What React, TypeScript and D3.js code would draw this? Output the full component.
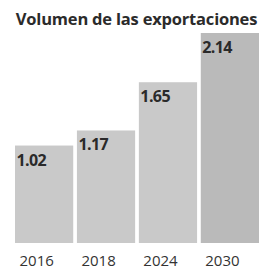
import React, { useEffect, useRef } from "react";
import * as d3 from "d3";

const years = ["2016", "2018", "2024", "2030"];
const volumes = [1.02, 1.17, 1.65, 2.14];
const valueLabels = ["1.02", "1.17", "1.65", "2.14"];
const title = "Volumen de las exportaciones";

const W = 263;
const H = 268;

export default function App() {
  const ref = useRef<SVGSVGElement>(null);

  useEffect(() => {
    const svg = d3.select(ref.current);
    svg.selectAll("*").remove();

    const x = d3.scaleBand<string>()
      .domain(years)
      .range([15, 259])
      .paddingInner(0.06)
      .paddingOuter(0);

    // bars don't start from zero in the print, bottom sits a bit above
    const y = d3.scaleLinear()
      .domain([0.05, 2.14])
      .range([243, 33]);

    svg.append("text")
      .attr("x", 136.5)
      .attr("y", 25)
      .attr("text-anchor", "middle")
      .attr("font-family", "Open Sans, sans-serif")
      .attr("font-weight", 700)
      .attr("font-size", 16.5)
      .attr("letter-spacing", -0.2)
      .attr("fill", "#2b2b2b")
      .text(title);

    const g = svg.append("g");

    g.selectAll("rect")
      .data(volumes)
      .enter()
      .append("rect")
      .attr("x", (d, i) => x(years[i])!)
      .attr("y", d => y(d))
      .attr("width", x.bandwidth())
      .attr("height", d => y.range()[0] - y(d))
      .attr("fill", (d, i) => i === 3 ? "#bababa" : "#c9c9c9");

    g.selectAll(".val")
      .data(volumes)
      .enter()
      .append("text")
      .attr("class", "val")
      .attr("x", (d, i) => x(years[i])! + 1.5)
      .attr("y", d => y(d) + 20)
      .attr("font-family", "Open Sans, sans-serif")
      .attr("font-weight", 700)
      .attr("font-size", 16)
      .attr("letter-spacing", -0.6)
      .attr("fill", "#2a2a2a")
      .text((d, i) => valueLabels[i]);

    // year labels sit left of bar centre in the original
    svg.selectAll(".yr")
      .data(years)
      .enter()
      .append("text")
      .attr("class", "yr")
      .attr("x", d => x(d)! + 4.5)
      .attr("y", 265.5)
      .attr("font-family", "Open Sans, sans-serif")
      .attr("font-size", 15)
      .attr("fill", "#333")
      .text(d => d);
  }, []);

  return (
    <div style={{ position: "absolute", left: 0, top: 0, width: W, height: H, background: "#fff" }}>
      <svg ref={ref} width={W} height={H}></svg>
    </div>
  );
}
